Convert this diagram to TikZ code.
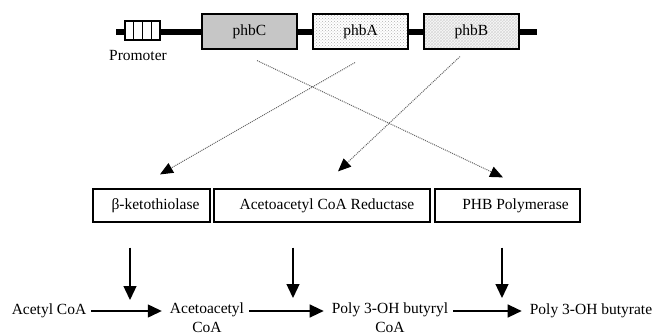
\documentclass[tikz,border=0pt]{standalone}
\usepackage{fontspec}
\setmainfont{Liberation Serif}
\usetikzlibrary{arrows.meta, positioning, calc, patterns}

\begin{document}
\begin{tikzpicture}[x=1pt, y=-1pt, font=\fontsize{15.5}{19}\selectfont,
    gene/.style={draw, line width=1.1pt, minimum width=95pt, minimum height=35pt, inner sep=0pt},
    enzyme/.style={draw, line width=1.2pt, minimum height=33pt, inner sep=0pt},
    substrate/.style={inner sep=5pt, align=center},
    flow/.style={line width=1.3pt, shorten >=3pt, -{Triangle[length=14pt, width=13pt]}},
    link/.style={black!60, densely dotted, line width=1pt, -{Triangle[length=13pt, width=11pt, color=black]}}]
  \useasboundingbox (0,0) rectangle (657,335);

  % operon
  \coordinate (dna start) at (116,32);
  \coordinate (dna end) at (537,32);
  \draw[line width=6pt] (dna start) -- (dna end);
  \node[draw, fill=white, line width=1.1pt, minimum width=35pt, minimum height=19pt, inner sep=0pt] (prom) at (142.5,30.5) {};
  \foreach \f in {0.25, 0.5, 0.75} {
    \draw[line width=1.1pt] ($(prom.north west)!\f!(prom.north east)$) -- ($(prom.south west)!\f!(prom.south east)$);
  }
  \node (promlabel) at (138,55) {Promoter};
  \node[gene, fill=gray!45] (phbC) at (249.5,31.5) {phbC};
  \node[gene, preaction={fill=white}, pattern=crosshatch dots, pattern color=gray!60] (phbA) at (360.5,31.5) {phbA};
  \node[gene, preaction={fill=gray!5}, pattern=crosshatch, pattern color=gray!30] (phbB) at (471.5,31.5) {phbB};

  % enzymes
  \node[enzyme, minimum width=117pt] (kt) at (151.5,205.5) {\hspace*{8pt}β-ketothiolase};
  \node[enzyme, minimum width=216pt] (red) at (322,205.5) {\hspace*{10pt}Acetoacetyl CoA Reductase};
  \node[enzyme, minimum width=145pt] (pol) at (507.5,205.5) {\hspace*{16pt}PHB Polymerase};

  \draw[link] ([xshift=-5.5pt, yshift=-13pt]phbA.south) -- ([xshift=8.5pt, yshift=14pt]kt.north);
  \draw[link] ([xshift=7.5pt, yshift=-11pt]phbC.south) -- ([xshift=-4.5pt, yshift=11pt]pol.north);
  \draw[link] ([xshift=-11.5pt, yshift=-7pt]phbB.south) -- ([xshift=16pt, yshift=17pt]red.north);

  % pathway
  \node[substrate] (acetyl) at (49,311) {Acetyl CoA};
  \node[substrate] (acac) at (207,318) {Acetoacetyl\\CoA};
  \node[substrate] (butyryl) at (390,318) {Poly 3-OH butyryl\\CoA};
  \node[substrate] (butyrate) at (591,311) {Poly 3-OH butyrate};

  \draw[flow] (acetyl) -- (acetyl -| acac.west);
  \draw[flow] (acac.east |- acetyl) -- (acetyl -| butyryl.west);
  \draw[flow] (butyryl.east |- acetyl) -- (butyrate);

  \coordinate (r1) at (130,300);
  \coordinate (r2) at (293,298);
  \coordinate (r3) at (502,298);
  \draw[flow, shorten >=0pt, shorten <=25pt] (kt.south -| r1) -- (r1);
  \draw[flow, shorten >=0pt, shorten <=25pt] (red.south -| r2) -- (r2);
  \draw[flow, shorten >=0pt, shorten <=25pt] (pol.south -| r3) -- (r3);
\end{tikzpicture}
\end{document}
